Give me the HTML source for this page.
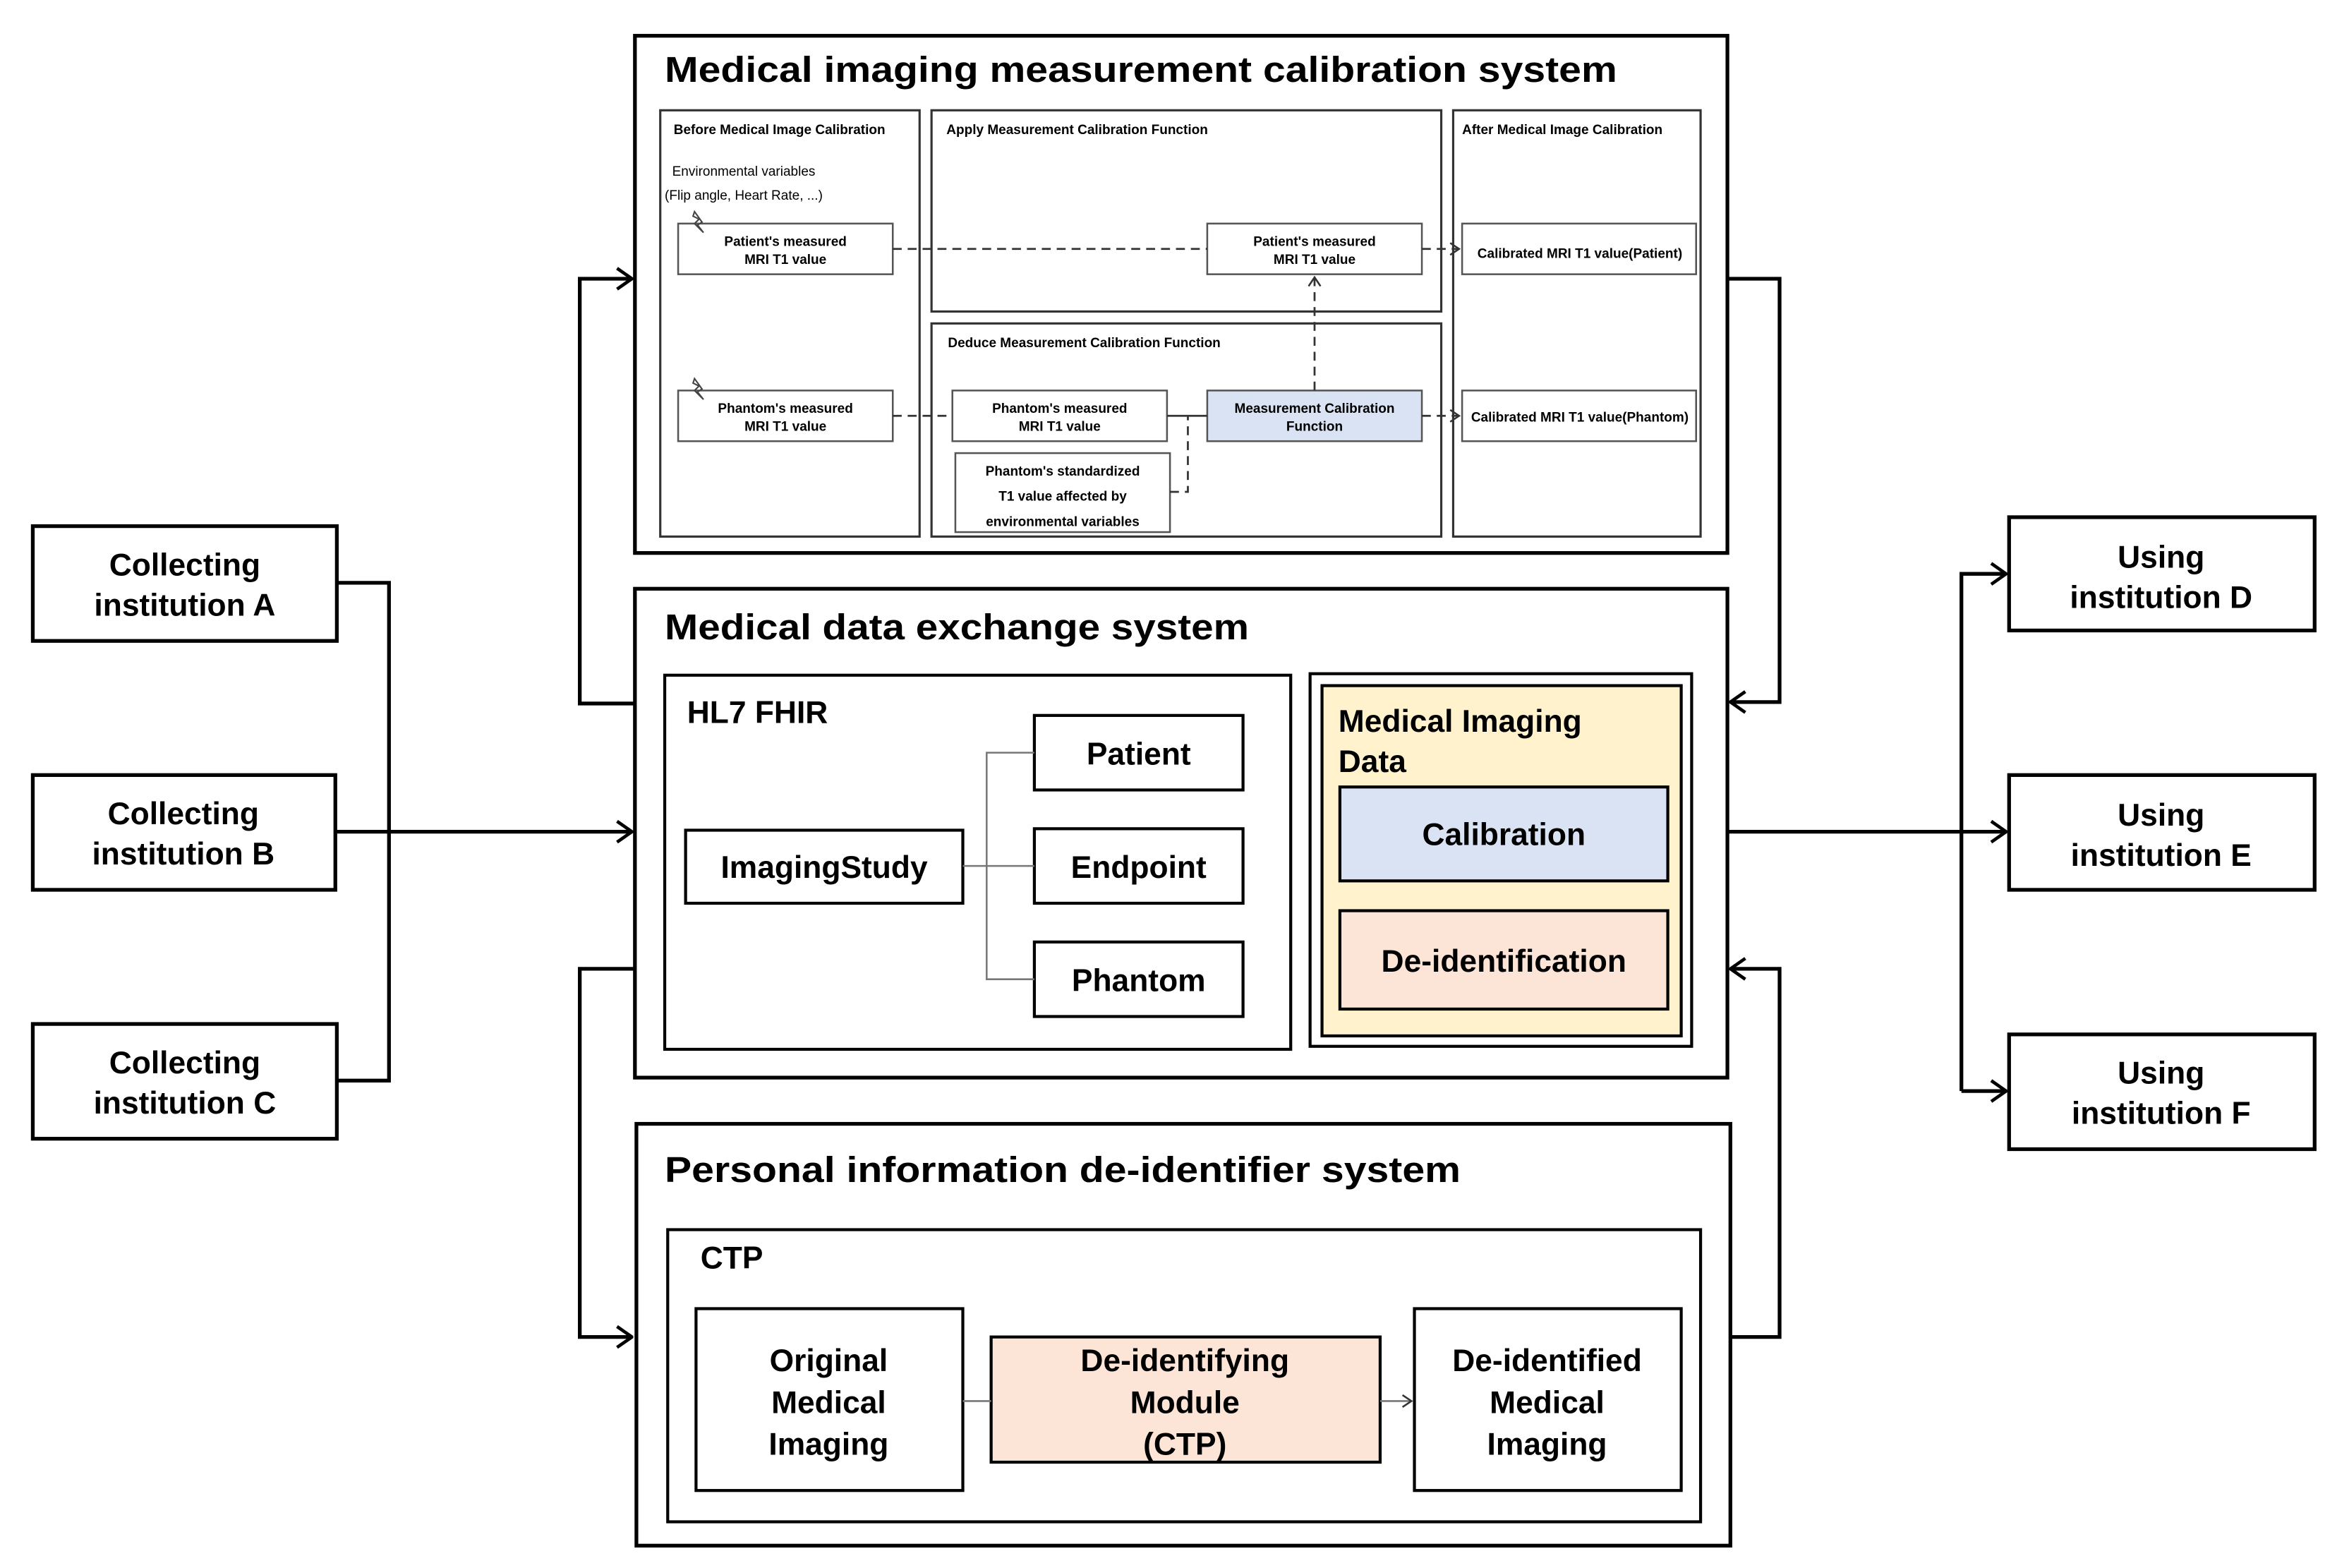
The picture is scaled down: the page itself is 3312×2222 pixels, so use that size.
<!DOCTYPE html>
<html><head><meta charset="utf-8">
<style>
html,body{margin:0;padding:0;background:#fff;}
svg{display:block;}
text{font-family:"Liberation Sans",sans-serif;font-weight:bold;fill:#000;}
.s{font-size:9px;}
.m{font-size:21px;}
.t{font-size:24px;}
</style></head>
<body>
<svg width="3312" height="2222" viewBox="0 0 1568 1052" preserveAspectRatio="none" xmlns="http://www.w3.org/2000/svg">
<defs>
<marker id="a" markerWidth="12" markerHeight="16" refX="11" refY="8" orient="auto" markerUnits="userSpaceOnUse">
<path d="M1,1 L11,8 L1,15" fill="none" stroke="#000" stroke-width="2.2"/></marker>
<marker id="sa" markerWidth="8" markerHeight="10" refX="7" refY="5" orient="auto" markerUnits="userSpaceOnUse">
<path d="M1,1 L7,5 L1,9" fill="none" stroke="#333" stroke-width="1.2"/></marker>
</defs>
<rect width="1568" height="1052" fill="#fff"/>

<g fill="none" stroke="#000" stroke-width="2.5">
<rect x="426" y="24" width="733" height="347"/>
<rect x="426" y="395" width="733" height="328"/>
<rect x="427" y="754" width="734" height="283"/>
<rect x="22" y="353" width="204" height="77"/>
<rect x="22" y="520" width="203" height="77"/>
<rect x="22" y="687" width="204" height="77"/>
<rect x="1348" y="347" width="205" height="76"/>
<rect x="1348" y="520" width="205" height="77"/>
<rect x="1348" y="694" width="205" height="77"/>
<polyline points="226,391 261,391 261,725 226,725"/>
<line x1="225" y1="558" x2="424" y2="558" marker-end="url(#a)"/>
<line x1="1159" y1="558" x2="1346" y2="558" marker-end="url(#a)"/>
<polyline points="1316,732 1316,385 1346,385" marker-end="url(#a)"/>
<line x1="1316" y1="732" x2="1346" y2="732" marker-end="url(#a)"/>
<polyline points="426,472 389,472 389,187 424,187" marker-end="url(#a)"/>
<polyline points="426,650 389,650 389,897 424,897" marker-end="url(#a)"/>
<polyline points="1159,187 1194,187 1194,471 1161,471" marker-end="url(#a)"/>
<polyline points="1161,897 1194,897 1194,650 1161,650" marker-end="url(#a)"/>
</g>

<g fill="none" stroke="#333" stroke-width="1.5">
<rect x="443" y="74" width="174" height="286"/>
<rect x="625" y="74" width="342" height="135"/>
<rect x="625" y="217" width="342" height="143"/>
<rect x="975" y="74" width="166" height="286"/>
</g>
<g fill="#fff" stroke="#555" stroke-width="1.2">
<rect x="455" y="150" width="144" height="34"/>
<rect x="455" y="262" width="144" height="34"/>
<rect x="810" y="150" width="144" height="34"/>
<rect x="639" y="262" width="144" height="34"/>
<rect x="641" y="304" width="144" height="53"/>
<rect x="810" y="262" width="144" height="34" fill="#dae3f3"/>
<rect x="981" y="150" width="157" height="34"/>
<rect x="981" y="262" width="157" height="34"/>
</g>
<g fill="none" stroke="#333" stroke-width="1.3" stroke-dasharray="6,4">
<line x1="599" y1="167" x2="810" y2="167"/>
<line x1="954" y1="167" x2="979" y2="167" marker-end="url(#sa)"/>
<line x1="599" y1="279" x2="639" y2="279"/>
<line x1="954" y1="279" x2="979" y2="279" marker-end="url(#sa)"/>
<line x1="882" y1="262" x2="882" y2="186" marker-end="url(#sa)"/>
<polyline points="785,330 797,330 797,279"/>
</g>
<line x1="783" y1="279" x2="810" y2="279" stroke="#333" stroke-width="1.3"/>
<g fill="none" stroke="#444" stroke-width="1">
<path d="M465,145 L469,147 L466,150 L472,156 L468,151 L471,149 L466,142 Z"/>
<path d="M465,257 L469,259 L466,262 L472,268 L468,263 L471,261 L466,254 Z"/>
</g>
<g class="s">
<text x="452" y="90">Before Medical Image Calibration</text>
<text x="635" y="90">Apply Measurement Calibration Function</text>
<text x="636" y="233">Deduce Measurement Calibration Function</text>
<text x="981" y="90">After Medical Image Calibration</text>
<text x="451" y="118" style="font-weight:normal">Environmental variables</text>
<text x="446" y="134" style="font-weight:normal">(Flip angle, Heart Rate, ...)</text>
<g text-anchor="middle">
<text x="527" y="165">Patient's measured</text><text x="527" y="177">MRI T1 value</text>
<text x="527" y="277">Phantom's measured</text><text x="527" y="289">MRI T1 value</text>
<text x="882" y="165">Patient's measured</text><text x="882" y="177">MRI T1 value</text>
<text x="711" y="277">Phantom's measured</text><text x="711" y="289">MRI T1 value</text>
<text x="882" y="277">Measurement Calibration</text><text x="882" y="289">Function</text>
<text x="713" y="319">Phantom's standardized</text>
<text x="713" y="336">T1 value affected by</text>
<text x="713" y="353">environmental variables</text>
<text x="1060" y="173">Calibrated MRI T1 value(Patient)</text>
<text x="1060" y="283">Calibrated MRI T1 value(Phantom)</text>
</g>
</g>

<g fill="none" stroke="#000" stroke-width="2">
<rect x="446" y="453" width="420" height="251"/>
<rect x="460" y="557" width="186" height="49"/>
<rect x="694" y="480" width="140" height="50"/>
<rect x="694" y="556" width="140" height="50"/>
<rect x="694" y="632" width="140" height="50"/>
<rect x="879" y="452" width="256" height="250"/>
<rect x="887" y="460" width="241" height="235" fill="#fff2cc"/>
<rect x="899" y="528" width="220" height="63" fill="#dae3f3"/>
<rect x="899" y="611" width="220" height="66" fill="#fce4d6"/>
</g>
<g fill="none" stroke="#777" stroke-width="1.2">
<polyline points="646,581 662,581"/>
<polyline points="694,505 662,505 662,657 694,657"/>
<line x1="662" y1="581" x2="694" y2="581"/>
</g>

<g fill="none" stroke="#000" stroke-width="2">
<rect x="448" y="825" width="693" height="196"/>
<rect x="467" y="878" width="179" height="122"/>
<rect x="665" y="897" width="261" height="84" fill="#fce4d6"/>
<rect x="949" y="878" width="179" height="122"/>
</g>
<line x1="646" y1="940" x2="665" y2="940" stroke="#777" stroke-width="1.2"/>
<line x1="926" y1="940" x2="947" y2="940" stroke="#777" stroke-width="1.2" marker-end="url(#sa)"/>

<g class="t">
<text x="446" y="55" textLength="639" lengthAdjust="spacingAndGlyphs">Medical imaging measurement calibration system</text>
<text x="446" y="429" textLength="392" lengthAdjust="spacingAndGlyphs">Medical data exchange system</text>
<text x="446" y="793" textLength="534" lengthAdjust="spacingAndGlyphs">Personal information de-identifier system</text>
</g>
<g class="m">
<text x="461" y="485">HL7 FHIR</text>
<text x="898" y="491">Medical Imaging</text>
<text x="898" y="518">Data</text>
<text x="470" y="851">CTP</text>
<g text-anchor="middle">
<text x="124" y="386">Collecting</text><text x="124" y="413">institution A</text>
<text x="123" y="553">Collecting</text><text x="123" y="580">institution B</text>
<text x="124" y="720">Collecting</text><text x="124" y="747">institution C</text>
<text x="1450" y="381">Using</text><text x="1450" y="408">institution D</text>
<text x="1450" y="554">Using</text><text x="1450" y="581">institution E</text>
<text x="1450" y="727">Using</text><text x="1450" y="754">institution F</text>
<text x="553" y="589">ImagingStudy</text>
<text x="764" y="513">Patient</text>
<text x="764" y="589">Endpoint</text>
<text x="764" y="665">Phantom</text>
<text x="1009" y="567">Calibration</text>
<text x="1009" y="652">De-identification</text>
<text x="556" y="920">Original</text><text x="556" y="948">Medical</text><text x="556" y="976">Imaging</text>
<text x="795" y="920">De-identifying</text><text x="795" y="948">Module</text><text x="795" y="976">(CTP)</text>
<text x="1038" y="920">De-identified</text><text x="1038" y="948">Medical</text><text x="1038" y="976">Imaging</text>
</g>
</g>
</svg>
</body></html>
